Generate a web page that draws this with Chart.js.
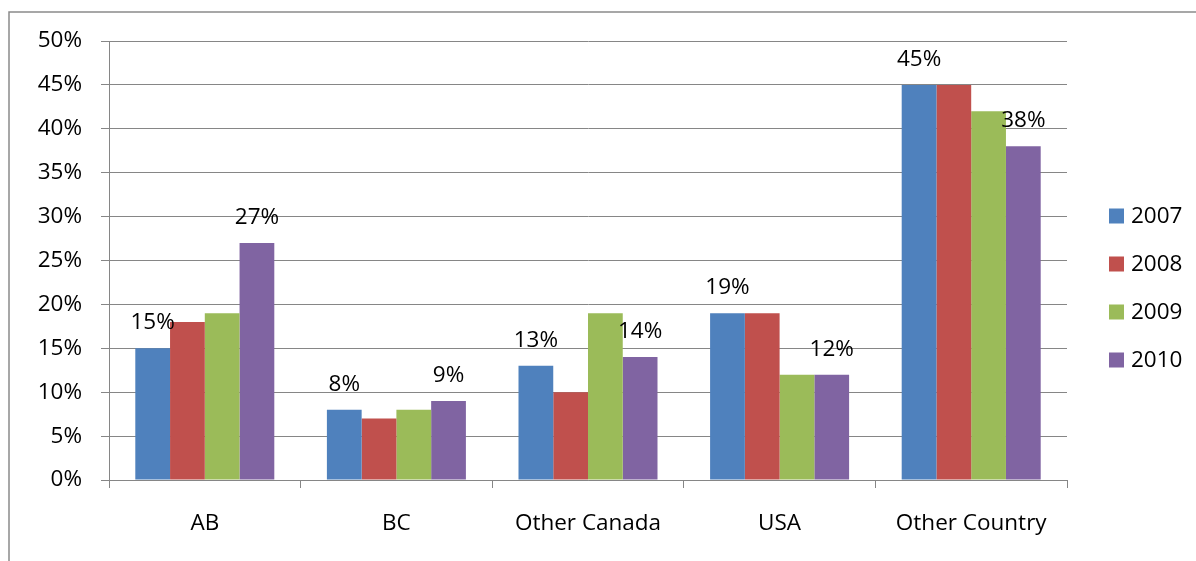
<!DOCTYPE html>
<html lang="en">
<head>
  <meta charset="UTF-8" />
  <title>Origin by year</title>
  <style>
    * { margin: 0; padding: 0; box-sizing: border-box; }
    body { background: #ffffff; }
    .wrap { position: relative; width: 1196px; height: 561px; }
  </style>
</head>
<body>
  <div class="wrap">
    <canvas id="originChart"></canvas>
  </div>

  <script src="https://cdn.jsdelivr.net/npm/chart.js"></script>
  <script>
    // data (percent)
    const categories = ['AB', 'BC', 'Other Canada', 'USA', 'Other Country'];
    const years = ['2007', '2008', '2009', '2010'];
    const v2007 = [15, 8, 13, 19, 45];
    const v2008 = [18, 7, 10, 19, 45];
    const v2009 = [19, 8, 19, 12, 42];
    const v2010 = [27, 9, 14, 12, 38];
    const labelledSeries = [0, 3]; // only 2007 and 2010 carry value labels
    const yTicks = [0, 5, 10, 15, 20, 25, 30, 35, 40, 45, 50];

    const colors = ['#4F81BD', '#C0504D', '#9BBB59', '#8064A2'];
    const FONT = '"Open Sans", Lato, sans-serif';
    const FSIZE = 22.5;
    const gridColor = '#868686';

    // outer frame (only top + left show in the crop)
    const framePlugin = {
      id: 'frame',
      beforeDraw(chart) {
        const c = chart.ctx;
        c.save();
        c.strokeStyle = '#8a8a8a';
        c.lineWidth = 1.5;
        c.beginPath();
        c.moveTo(9, 562);
        c.lineTo(9, 12);
        c.lineTo(1197, 12);
        c.stroke();
        c.restore();
      }
    };

    // value labels above 2007 / 2010 bars
    const valueLabels = {
      id: 'valueLabels',
      afterDatasetsDraw(chart) {
        const c = chart.ctx;
        c.save();
        c.font = FSIZE + 'px ' + FONT;
        c.fillStyle = '#000';
        c.textAlign = 'center';
        c.textBaseline = 'alphabetic';
        labelledSeries.forEach(i => {
          const meta = chart.getDatasetMeta(i);
          meta.data.forEach((bar, j) => {
            c.fillText(chart.data.datasets[i].data[j] + '%', bar.x, bar.y - 19);
          });
        });
        c.restore();
      }
    };

    // legend on the right
    const sideLegend = {
      id: 'sideLegend',
      afterDraw(chart) {
        const c = chart.ctx;
        c.save();
        c.font = FSIZE + 'px ' + FONT;
        c.textBaseline = 'middle';
        c.textAlign = 'left';
        years.forEach((y, i) => {
          const cy = 216 + i * 48;
          c.fillStyle = colors[i];
          c.fillRect(1109, cy - 7.5, 15, 15);
          c.fillStyle = '#000';
          c.fillText(y, 1131, cy + 1);
        });
        c.restore();
      }
    };

    const series = [v2007, v2008, v2009, v2010];

    const ctx = document.getElementById('originChart').getContext('2d');
    new Chart(ctx, {
      type: 'bar',
      data: {
        labels: categories,
        datasets: series.map((d, i) => ({
          label: years[i],
          data: d,
          backgroundColor: colors[i],
          borderWidth: 0,
          categoryPercentage: 0.7255,
          barPercentage: 1
        }))
      },
      options: {
        responsive: true,
        maintainAspectRatio: false,
        animation: false,
        layout: { padding: { left: 0, top: 41, right: 129, bottom: 0 } },
        plugins: {
          legend: { display: false },
          tooltip: { enabled: false }
        },
        scales: {
          x: {
            grid: {
              display: true,
              drawOnChartArea: false,
              drawTicks: true,
              tickLength: 8,
              color: gridColor,
              offset: true
            },
            border: { color: gridColor, width: 1 },
            ticks: {
              color: '#000',
              font: { family: FONT, size: FSIZE },
              padding: 22,
              maxRotation: 0
            },
            afterFit(axis) { axis.height = 81; }
          },
          y: {
            min: 0,
            max: 50,
            afterBuildTicks(axis) { axis.ticks = yTicks.map(v => ({ value: v })); },
            grid: {
              color: gridColor,
              lineWidth: 1,
              drawTicks: true,
              tickLength: 8
            },
            border: { color: gridColor, width: 1 },
            ticks: {
              color: '#000',
              font: { family: FONT, size: FSIZE },
              padding: 19,
              callback: v => v + '%'
            },
            afterFit(axis) { axis.width = 109; }
          }
        }
      },
      plugins: [framePlugin, valueLabels, sideLegend]
    });
  </script>
</body>
</html>
